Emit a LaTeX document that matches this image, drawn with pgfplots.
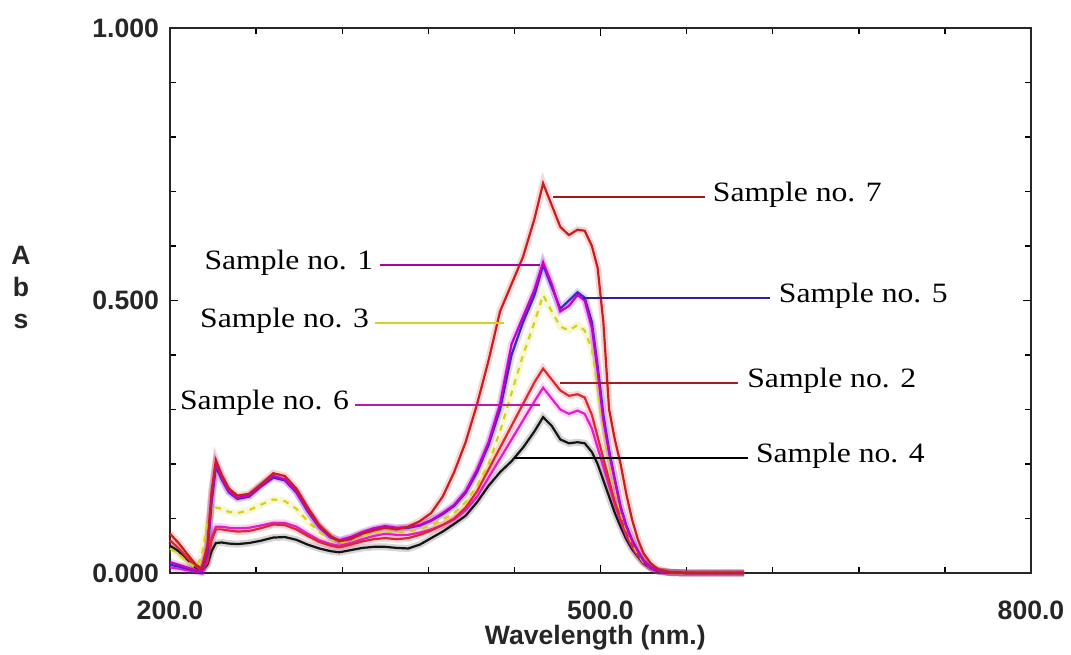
\documentclass[border=0pt]{standalone}
\usepackage{pgfplots}
\pgfplotsset{compat=1.18}
\usepackage{pgfplotstable}
\usepackage{fontspec}
\setmainfont{Liberation Serif}
\newfontfamily\annfont[FakeStretch=1.13]{Liberation Serif}
\newfontfamily\lsans{Liberation Sans}
\definecolor{cs7}{RGB}{200,30,30}
\definecolor{cs1}{RGB}{200,0,200}
\definecolor{cs5}{RGB}{60,40,200}
\definecolor{cs3}{RGB}{210,210,30}
\definecolor{cs2}{RGB}{220,40,50}
\definecolor{cs6}{RGB}{225,30,200}
\definecolor{cs4}{RGB}{20,20,20}
\pgfplotstableread{
wl s1 s2 s3 s4 s5 s6 s7
200 .020 .060 .045 .050 .015 .010 .072
206 .015 .045 .035 .040 .012 .008 .055
212 .010 .028 .020 .025 .008 .005 .035
218 .005 .012 .010 .010 .004 .003 .015
222 .003 .005 .030 .004 .002 .002 .008
226 .040 .020 .090 .015 .035 .020 .050
229 .140 .060 .110 .040 .130 .065 .150
232 .200 .080 .120 .055 .195 .085 .207
236 .175 .080 .118 .056 .172 .085 .180
241 .150 .078 .112 .054 .148 .083 .155
247 .138 .076 .110 .053 .136 .082 .142
255 .142 .077 .115 .055 .140 .083 .145
263 .160 .082 .125 .059 .158 .087 .162
272 .178 .089 .135 .065 .175 .092 .183
280 .172 .088 .132 .066 .170 .092 .178
288 .150 .080 .118 .061 .148 .085 .155
296 .115 .068 .095 .052 .113 .072 .120
304 .085 .057 .075 .045 .084 .060 .088
312 .066 .050 .062 .040 .065 .053 .068
318 .060 .047 .056 .038 .059 .050 .058
326 .066 .052 .060 .042 .065 .055 .062
334 .075 .058 .068 .046 .073 .062 .072
342 .082 .062 .073 .048 .080 .068 .078
350 .086 .064 .076 .048 .084 .072 .083
358 .083 .062 .074 .046 .082 .070 .080
366 .084 .064 .076 .045 .083 .070 .085
374 .088 .070 .080 .052 .087 .074 .095
382 .097 .078 .088 .064 .096 .080 .110
390 .110 .088 .098 .076 .108 .088 .140
398 .125 .100 .110 .090 .123 .098 .185
406 .150 .120 .130 .105 .147 .115 .240
414 .190 .150 .160 .130 .185 .140 .310
422 .240 .190 .200 .160 .235 .175 .390
430 .310 .230 .260 .185 .300 .210 .480
438 .420 .270 .330 .205 .400 .245 .530
446 .470 .310 .400 .230 .460 .280 .580
454 .520 .350 .460 .260 .510 .315 .650
460 .570 .375 .510 .286 .565 .340 .715
466 .530 .355 .480 .270 .525 .320 .675
472 .480 .335 .452 .245 .485 .300 .635
478 .490 .325 .445 .238 .500 .292 .620
484 .510 .328 .455 .240 .515 .298 .630
489 .500 .322 .445 .238 .505 .292 .628
494 .450 .290 .410 .222 .460 .265 .600
498 .370 .250 .340 .200 .380 .230 .560
502 .280 .210 .260 .170 .290 .195 .460
506 .220 .170 .200 .140 .225 .160 .300
510 .170 .130 .155 .110 .172 .125 .245
514 .120 .100 .110 .085 .122 .095 .200
518 .085 .072 .080 .062 .087 .068 .145
522 .060 .050 .055 .044 .061 .048 .098
526 .040 .033 .035 .030 .041 .032 .062
530 .022 .020 .020 .018 .023 .020 .036
535 .010 .010 .010 .009 .011 .010 .018
540 .004 .004 .004 .003 .004 .004 .007
548 .001 .001 .001 .001 .001 .001 .002
560 0 0 0 0 0 0 0
580 0 0 0 0 0 0 0
600 0 0 0 0 0 0 0
}\spectra
\begin{document}
\begin{tikzpicture}
\useasboundingbox (0,0) rectangle (535.5bp,327.5bp);
\begin{axis}[
  at={(85bp,41bp)}, anchor=south west,
  scale only axis, width=430.5bp, height=272.5bp,
  xmin=200, xmax=800, ymin=0, ymax=1,
  xtick={200,500,800}, xticklabels={200.0,500.0,800.0},
  minor xtick={260,320,380,440,560,620,680,740},
  ytick={0,0.5,1}, yticklabels={0.000,0.500,1.000},
  minor ytick={0.1,0.2,0.3,0.4,0.6,0.7,0.8,0.9},
  tick align=inside, major tick length=4bp, minor tick length=3bp,
  tick style={black, line width=0.7pt},
  axis line style={line width=0.9pt, black!85},
  ticklabel style={font=\lsans\bfseries\fontsize{13.3bp}{14bp}\selectfont, text=black!85},
  xticklabel style={yshift=-10.5bp},
  yticklabel style={xshift=-2bp},
  clip=false,
  halo/.style={line width=3.5pt, opacity=0.18, forget plot},
  crv/.style={line width=1.1pt, forget plot},
]
\addplot[halo, cs4] table[x=wl,y=s4] {\spectra};
\addplot[halo, cs6] table[x=wl,y=s6] {\spectra};
\addplot[halo, cs2] table[x=wl,y=s2] {\spectra};
\addplot[halo, cs3] table[x=wl,y=s3] {\spectra};
\addplot[halo, cs5] table[x=wl,y=s5] {\spectra};
\addplot[halo, cs1] table[x=wl,y=s1] {\spectra};
\addplot[halo, cs7] table[x=wl,y=s7] {\spectra};
\addplot[crv, cs4] table[x=wl,y=s4] {\spectra};
\addplot[crv, cs6] table[x=wl,y=s6] {\spectra};
\addplot[crv, cs2] table[x=wl,y=s2] {\spectra};
\addplot[crv, cs3, dashed] table[x=wl,y=s3] {\spectra};
\addplot[crv, cs5] table[x=wl,y=s5] {\spectra};
\addplot[crv, cs1] table[x=wl,y=s1] {\spectra};
\addplot[crv, cs7] table[x=wl,y=s7] {\spectra};
% leader lines and annotations
\draw[line width=0.9pt, cs7!80!black] (axis cs:467,0.69) -- (axis cs:573,0.69);
\node[anchor=mid west, inner sep=1.5bp, font=\annfont\fontsize{14bp}{16bp}\selectfont] at (axis cs:576,0.69) {Sample no. 7};
\draw[line width=0.9pt, cs1!85!black] (axis cs:346,0.565) -- (axis cs:458,0.565);
\node[anchor=mid east, inner sep=1.5bp, font=\annfont\fontsize{14bp}{16bp}\selectfont] at (axis cs:344,0.565) {Sample no. 1};
\draw[line width=0.9pt, cs5!80!black] (axis cs:488,0.505) -- (axis cs:618,0.505);
\node[anchor=mid west, inner sep=1.5bp, font=\annfont\fontsize{14bp}{16bp}\selectfont] at (axis cs:622,0.505) {Sample no. 5};
\draw[line width=1.2pt, cs3] (axis cs:343,0.459) -- (axis cs:433,0.459);
\node[anchor=mid east, inner sep=1.5bp, font=\annfont\fontsize{14bp}{16bp}\selectfont] at (axis cs:341,0.459) {Sample no. 3};
\draw[line width=0.9pt, cs2!75!black] (axis cs:472,0.349) -- (axis cs:596,0.349);
\node[anchor=mid west, inner sep=1.5bp, font=\annfont\fontsize{14bp}{16bp}\selectfont] at (axis cs:600,0.349) {Sample no. 2};
\draw[line width=0.9pt, cs6!85!black] (axis cs:329,0.308) -- (axis cs:458,0.308);
\node[anchor=mid east, inner sep=1.5bp, font=\annfont\fontsize{14bp}{16bp}\selectfont] at (axis cs:327,0.308) {Sample no. 6};
\draw[line width=0.9pt, black] (axis cs:440,0.211) -- (axis cs:603,0.211);
\node[anchor=mid west, inner sep=1.5bp, font=\annfont\fontsize{14bp}{16bp}\selectfont] at (axis cs:606,0.211) {Sample no. 4};
% axis titles
\node[align=center, font=\lsans\bfseries\fontsize{13.3bp}{16bp}\selectfont, text=black!85] at (rel axis cs:-0.173,0.523) {A\\b\\s};
\node[font=\lsans\bfseries\fontsize{13.3bp}{16bp}\selectfont, text=black!85] at (rel axis cs:0.494,0) [yshift=-32.5bp] {Wavelength (nm.)};
\end{axis}
\end{tikzpicture}
\end{document}
